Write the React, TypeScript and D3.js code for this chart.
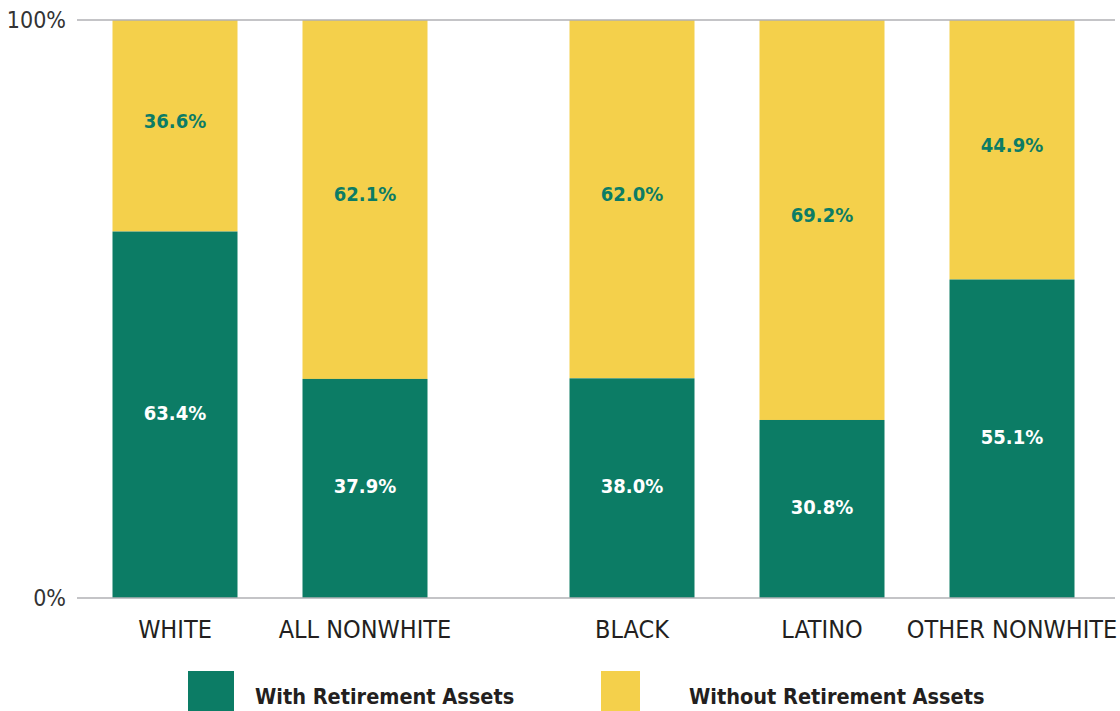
import React from "react";
import * as d3 from "d3";

const categories = ["WHITE", "ALL NONWHITE", "BLACK", "LATINO", "OTHER NONWHITE"];
const groupIndex = [0, 0, 1, 1, 1];
const withAssets = [63.4, 37.9, 38.0, 30.8, 55.1];
const withoutAssets = [36.6, 62.1, 62.0, 69.2, 44.9];
const yTicks = [0, 100];
const legendLabels = ["With Retirement Assets", "Without Retirement Assets"];

const GREEN = "#0c7c65";
const YELLOW = "#f4d04b";
const FONT = "'DejaVu Sans Condensed', 'Liberation Sans Narrow', Roboto, sans-serif";

export default function App() {
  const W = 1120, H = 711;
  const y = d3.scaleLinear().domain([0, 100]).range([598, 20]);
  const step = 190, gapExtra = 77, barW = 125;
  const x = d3.scaleLinear().domain([0, 1]).range([175, 175 + step]);
  const cx = (i: number) => x(i) + groupIndex[i] * gapExtra;

  return (
    <svg width={W} height={H} style={{ position: "absolute", left: 0, top: 0 }} fontFamily={FONT}>
      {categories.map((c, i) => {
        const x0 = cx(i) - barW / 2;
        const yg = y(withAssets[i]);
        return (
          <g key={c}>
            <rect x={x0} y={y(100)} width={barW} height={yg - y(100)} fill={YELLOW} />
            <rect x={x0} y={yg} width={barW} height={y(0) - yg} fill={GREEN} />
            <text x={cx(i)} y={(y(100) + yg) / 2 - 5} textAnchor="middle" dominantBaseline="central" fill={GREEN} fontWeight="bold" fontSize={20}>
              {withoutAssets[i].toFixed(1)}%
            </text>
            <text x={cx(i)} y={(yg + y(0)) / 2 - 2} textAnchor="middle" dominantBaseline="central" fill="#fff" fontWeight="bold" fontSize={20}>
              {withAssets[i].toFixed(1)}%
            </text>
            <text x={cx(i)} y={629} textAnchor="middle" dominantBaseline="central" fill="#231f20" fontSize={25}>
              {c}
            </text>
          </g>
        );
      })}
      {yTicks.map((t) => (
        <g key={t}>
          <line x1={77} x2={1115} y1={y(t)} y2={y(t)} stroke="#b0b0b5" strokeWidth={1.5} />
          <text x={66} y={y(t)} textAnchor="end" dominantBaseline="central" fill="#333" fontSize={23}>
            {t}%
          </text>
        </g>
      ))}
      <rect x={188} y={671} width={46} height={40} fill={GREEN} />
      <text x={255} y={696} dominantBaseline="central" fill="#231f20" fontWeight="bold" fontSize={21.5}>{legendLabels[0]}</text>
      <rect x={601} y={671} width={39} height={40} fill={YELLOW} />
      <text x={689} y={696} dominantBaseline="central" fill="#231f20" fontWeight="bold" fontSize={21.5}>{legendLabels[1]}</text>
    </svg>
  );
}
